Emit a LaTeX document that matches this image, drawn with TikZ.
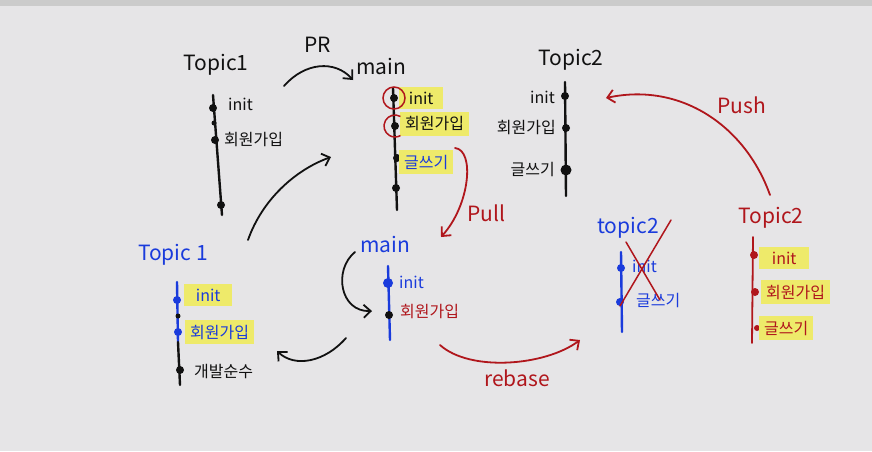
\documentclass[tikz,border=0pt]{standalone}
\usepackage{fontspec}
\newfontfamily\kr{Noto Sans CJK KR}
\usepackage{xcolor}
\usepackage{tikz}
\usetikzlibrary{arrows.meta}
\definecolor{board}{HTML}{E6E5E7}
\definecolor{topbar}{HTML}{CBCBCB}
\definecolor{pen}{HTML}{111111}
\definecolor{bluepen}{HTML}{1A3BDC}
\definecolor{redpen}{HTML}{B0161C}
\definecolor{marker}{HTML}{EEEA6A}

\begin{document}
\begin{tikzpicture}[
  x=1pt, y=-1pt,
  title/.style={font=\kr\fontsize{21}{21}\selectfont, inner sep=1pt},
  lbl/.style={font=\kr\fontsize{16}{16}\selectfont, inner sep=2pt},
  hl/.style={fill=marker, inner xsep=5pt, inner ysep=5pt},
  branch/.style={line width=2.4pt, line cap=round},
  commit/.style={circle, fill, inner sep=0pt, minimum size=8pt},
  tick/.style={circle, fill, inner sep=0pt, minimum size=5pt},
  arr/.style={-{Straight Barb[length=7pt,width=13pt]}, line width=1.8pt, line cap=round}
]
\fill[board] (0,0) rectangle (872,451);
\fill[topbar] (0,0) rectangle (872,6);
\useasboundingbox (0,0) rectangle (872,451);

% Topic1 (top)
\node[title, text=pen] (topicA) at (216,65) {Topic1};
\coordinate (topicAtop) at (213,95);
\coordinate (topicAbot) at (222,215);
\draw[branch, pen] (topicAtop) -- (topicAbot);
\node[commit, pen] (topicA1) at (213,108) {};
\node[tick, pen] (topicAx) at (214,123) {};
\node[commit, pen] (topicA2) at (215,140) {};
\node[commit, pen] (topicA3) at (221,205) {};
\node[lbl, text=pen, anchor=west] (topicA1l) at (226,104) {init};
\node[lbl, text=pen, anchor=west] (topicA2l) at (222,140) {회원가입};

% main (top)
\node[title, text=pen] (mainA) at (381,66) {main};
\coordinate (mainAtop) at (393,88);
\coordinate (mainAbot) at (397,210);
\draw[branch, pen] (mainAtop) -- (mainAbot);
\node[commit, pen] (mainA1) at (394,98) {};
\node[commit, pen] (mainA2) at (395,126) {};
\node[commit, pen] (mainA3) at (397,158) {};
\node[commit, pen] (mainA4) at (396,188) {};
\node[lbl, hl, text=pen, anchor=west, minimum width=44pt] (mainA1l) at (399,98) {init};
\node[lbl, hl, text=pen, anchor=west] (mainA2l) at (400,124) {회원가입};
\node[lbl, hl, text=bluepen, anchor=west] (mainA3l) at (399,162) {글쓰기};
\draw[redpen, line width=1.5pt] (mainA1) circle (11pt);
\draw[redpen, line width=1.5pt] ([shift={(60:11pt)}]mainA2.center) arc[start angle=60, end angle=300, radius=11pt];

% PR
\coordinate (prS) at (284,86);
\coordinate (prE) at (353,80);
\draw[arr, pen] (prS) .. controls (305,62) and (335,60) .. (prE);
\node[title, text=pen] (pr) at (318,45) {PR};

% Topic1 -> main
\coordinate (upS) at (248,240);
\coordinate (upE) at (331,157);
\draw[arr, pen] (upS) .. controls (262,200) and (295,170) .. (upE);

% Topic2 (top)
\node[title, text=pen] (topicB) at (571,60) {Topic2};
\coordinate (topicBtop) at (565,82);
\coordinate (topicBbot) at (566,196);
\draw[branch, pen] (topicBtop) -- (topicBbot);
\node[commit, pen] (topicB1) at (565,96) {};
\node[commit, pen] (topicB2) at (566,128) {};
\node[commit, pen, minimum size=11pt] (topicB3) at (566,170) {};
\node[lbl, text=pen, anchor=east] (topicB1l) at (557,97) {init};
\node[lbl, text=pen, anchor=east] (topicB2l) at (558,128) {회원가입};
\node[lbl, text=pen, anchor=east] (topicB3l) at (557,170) {글쓰기};

% Push
\coordinate (pushS) at (770,195);
\coordinate (pushE) at (606,98);
\draw[arr, redpen] (pushS) .. controls (745,125) and (680,82) .. (pushE);
\node[title, text=redpen] (push) at (742,105) {Push};

% Pull
\coordinate (pullS) at (455,148);
\coordinate (pullE) at (441,237);
\draw[arr, redpen] (pullS) .. controls (475,150) and (470,205) .. (pullE);
\node[title, text=redpen] (pull) at (486,213) {Pull};

% Topic 1 (blue)
\node[title, text=bluepen] (topicC) at (173,255) {Topic 1};
\coordinate (topicCtop) at (177,282);
\coordinate (topicCmid) at (178,342);
\coordinate (topicCbot) at (180,385);
\draw[branch, bluepen] (topicCtop) -- (topicCmid);
\draw[branch, pen] (topicCmid) -- (topicCbot);
\node[commit, bluepen] (topicC1) at (177,300) {};
\node[tick, pen] (topicCx) at (178,316) {};
\node[commit, bluepen] (topicC2) at (178,332) {};
\node[commit, pen] (topicC3) at (180,370) {};
\node[lbl, hl, text=bluepen, anchor=west, minimum width=48pt] (topicC1l) at (184,295) {init};
\node[lbl, hl, text=bluepen, anchor=west] (topicC2l) at (185,332) {회원가입};
\node[lbl, text=pen, anchor=west] (topicC3l) at (192,371) {개발순수};

% main (blue)
\node[title, text=bluepen] (mainB) at (385,244) {main};
\coordinate (mainBtop) at (388,266);
\coordinate (mainBbot) at (390,340);
\draw[branch, bluepen] (mainBtop) -- (mainBbot);
\node[commit, bluepen, minimum size=10pt] (mainB1) at (388,283) {};
\node[commit, pen] (mainB2) at (389,315) {};
\node[lbl, text=bluepen, anchor=west] (mainB1l) at (397,282) {init};
\node[lbl, text=redpen, anchor=west] (mainB2l) at (398,311) {회원가입};

% main -> Topic 1, and into main
\coordinate (backS) at (346,338);
\coordinate (backE) at (277,351);
\draw[arr, pen] (backS) .. controls (325,362) and (295,368) .. (backE);
\coordinate (inS) at (355,252);
\coordinate (inE) at (372,311);
\draw[arr, pen] (inS) .. controls (333,270) and (340,312) .. (inE);

% rebase
\coordinate (rebS) at (440,345);
\coordinate (rebE) at (580,340);
\draw[arr, redpen] (rebS) .. controls (470,372) and (545,366) .. (rebE);
\node[title, text=redpen] (rebase) at (517,378) {rebase};

% topic2 (blue, crossed out)
\node[title, text=bluepen] (topicD) at (628,228) {topic2};
\coordinate (topicDtop) at (621,252);
\coordinate (topicDbot) at (622,332);
\draw[branch, bluepen] (topicDtop) -- (topicDbot);
\node[commit, bluepen] (topicD1) at (621,268) {};
\node[commit, bluepen] (topicD2) at (620,302) {};
\node[lbl, text=bluepen, anchor=west] (topicD1l) at (630,266) {init};
\node[lbl, text=bluepen, anchor=west] (topicD2l) at (634,300) {글쓰기};
\coordinate (crossA) at (626,242);
\coordinate (crossB) at (660,300);
\coordinate (crossC) at (671,220);
\coordinate (crossD) at (620,306);
\draw[redpen, line width=1.5pt, line cap=round] (crossA) -- (crossB);
\draw[redpen, line width=1.5pt, line cap=round] (crossC) -- (crossD);

% Topic2 (red)
\node[title, text=redpen] (topicE) at (771,218) {Topic2};
\coordinate (topicEtop) at (753,237);
\coordinate (topicEbot) at (752,343);
\draw[branch, redpen, line width=1.8pt] (topicEtop) -- (topicEbot);
\node[commit, redpen] (topicE1) at (754,255) {};
\node[commit, redpen] (topicE2) at (755,292) {};
\node[commit, redpen, minimum size=6pt] (topicE3) at (757,328) {};
\node[lbl, hl, text=redpen, anchor=west, minimum width=50pt] (topicE1l) at (759,258) {init};
\node[lbl, hl, text=redpen, anchor=west] (topicE2l) at (761,292) {회원가입};
\node[lbl, hl, text=redpen, anchor=west] (topicE3l) at (759,328) {글쓰기};
\end{tikzpicture}
\end{document}
